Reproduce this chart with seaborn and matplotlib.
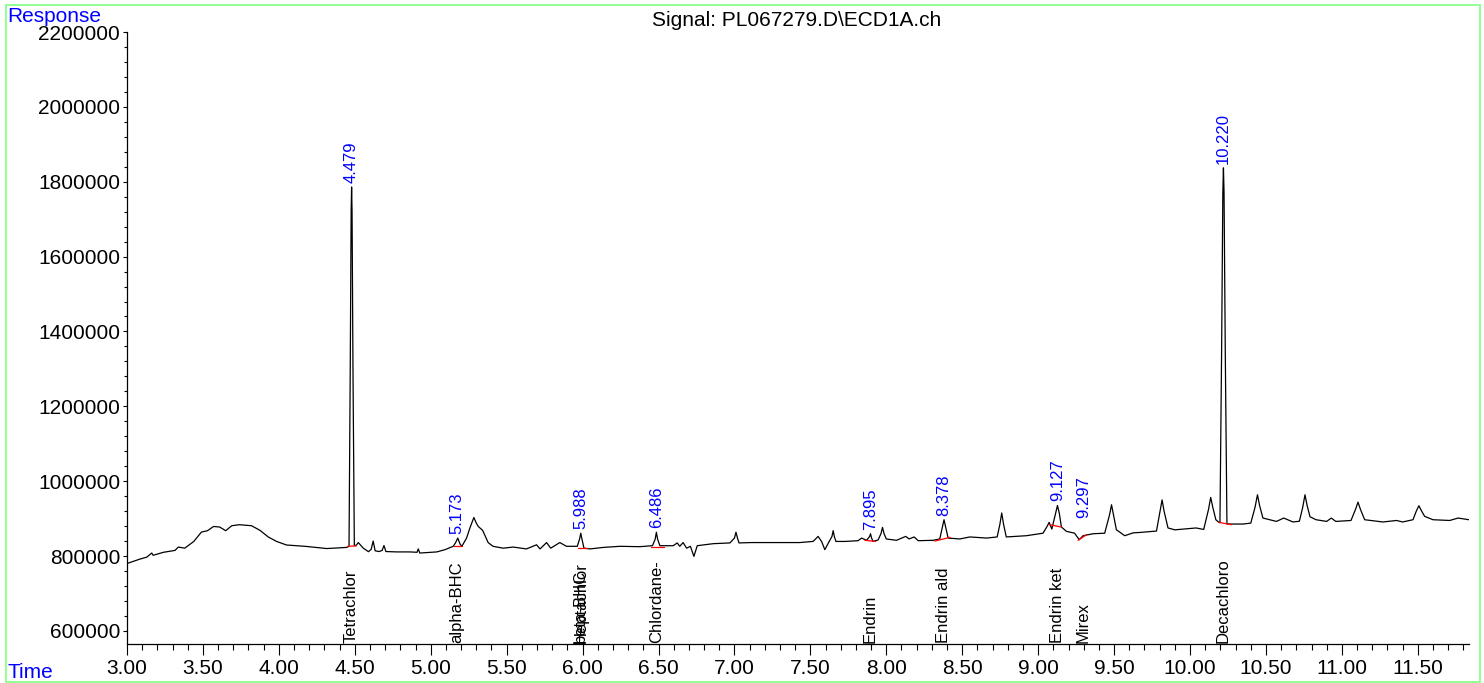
"""
GC-ECD chromatogram, signal PL067279.D\\ECD1A.ch
Writes out.png
"""

import matplotlib
matplotlib.use("Agg")
import matplotlib.pyplot as plt
from matplotlib.patches import Rectangle
from matplotlib.ticker import MultipleLocator, FuncFormatter
import numpy as np
import pandas as pd
import seaborn as sns

# ─── Data ─────────────────────────────────────────────────────────────────────

rt_min = [
    3.000, 3.086, 3.130, 3.163, 3.172, 3.240, 3.316, 3.338, 3.380, 3.440,
    3.490, 3.530, 3.570, 3.610, 3.650, 3.690, 3.740, 3.820, 3.876, 3.930,
    3.985, 4.050, 4.180, 4.315, 4.446, 4.462, 4.470, 4.476, 4.479, 4.482,
    4.488, 4.497, 4.510, 4.523, 4.556, 4.590, 4.608, 4.621, 4.634, 4.660,
    4.680, 4.692, 4.705, 4.776, 4.863, 4.910, 4.918, 4.928, 5.040, 5.094,
    5.148, 5.163, 5.178, 5.193, 5.205, 5.236, 5.258, 5.284, 5.300, 5.313,
    5.342, 5.378, 5.410, 5.477, 5.543, 5.630, 5.697, 5.720, 5.763, 5.790,
    5.850, 5.894, 5.965, 5.980, 5.988, 5.996, 6.009, 6.048, 6.136, 6.246,
    6.377, 6.460, 6.478, 6.486, 6.494, 6.509, 6.597, 6.623, 6.640, 6.662,
    6.685, 6.710, 6.733, 6.755, 6.860, 6.970, 7.000, 7.010, 7.020, 7.030,
    7.110, 7.277, 7.430, 7.518, 7.551, 7.575, 7.595, 7.624, 7.642, 7.650,
    7.658, 7.668, 7.730, 7.814, 7.837, 7.870, 7.890, 7.896, 7.903, 7.913,
    7.946, 7.965, 7.975, 7.985, 8.000, 8.067, 8.128, 8.150, 8.183, 8.210,
    8.308, 8.352, 8.368, 8.380, 8.392, 8.407, 8.484, 8.550, 8.660, 8.730,
    8.748, 8.760, 8.772, 8.790, 8.923, 9.032, 9.060, 9.072, 9.090, 9.115,
    9.127, 9.139, 9.153, 9.186, 9.240, 9.270, 9.296, 9.362, 9.438, 9.470,
    9.483, 9.496, 9.515, 9.570, 9.626, 9.669, 9.779, 9.803, 9.816, 9.829,
    9.855, 9.900, 10.040, 10.090, 10.122, 10.136, 10.150, 10.170, 10.190, 10.197,
    10.208, 10.216, 10.220, 10.224, 10.232, 10.243, 10.260, 10.349, 10.400, 10.428,
    10.444, 10.458, 10.480, 10.569, 10.617, 10.678, 10.720, 10.742, 10.757, 10.771,
    10.790, 10.830, 10.900, 10.930, 10.960, 11.060, 11.090, 11.106, 11.122, 11.150,
    11.270, 11.360, 11.400, 11.468, 11.490, 11.507, 11.525, 11.545, 11.600, 11.710,
    11.765, 11.837,
]

response = [
    780000, 792000, 797000, 808000, 802000, 810000, 815000, 824000, 821000, 839000,
    864000, 867700, 879000, 877500, 867700, 881000, 883700, 881000, 868500, 851000,
    839000, 829500, 825700, 820000, 823000, 826000, 1300000, 1720000, 1786000, 1720000,
    1300000, 828000, 829000, 836000, 821000, 811600, 818000, 840000, 814000, 812000,
    815000, 828000, 812000, 811000, 811000, 810000, 819000, 808000, 811000, 817000,
    826000, 835000, 848000, 832000, 826000, 848000, 875000, 903000, 888000, 879000,
    868500, 836000, 826000, 821000, 824000, 819000, 830000, 819000, 836000, 821000,
    836000, 826000, 826000, 845000, 861000, 845000, 821000, 819000, 823000, 826000,
    825000, 827600, 845000, 863600, 845000, 827600, 827600, 835000, 826000, 836000,
    821000, 826000, 799000, 827600, 833000, 835000, 848000, 863600, 848000, 835000,
    836000, 836000, 836000, 839000, 852500, 838000, 817000, 839000, 852000, 867700,
    852000, 839000, 839000, 841000, 848000, 842000, 852000, 859600, 848000, 839000,
    843000, 860000, 876500, 860000, 845600, 842000, 852500, 845600, 851000, 841000,
    842000, 845600, 875000, 897000, 875000, 848000, 845600, 851000, 848000, 851000,
    885000, 915000, 885000, 851000, 854300, 861000, 880000, 890000, 872000, 915000,
    935000, 915000, 877500, 866000, 861000, 843600, 854300, 859600, 861000, 910000,
    937000, 910000, 870300, 854300, 862000, 863000, 866700, 920000, 950000, 920000,
    875000, 870000, 875000, 871000, 925000, 956600, 930000, 897000, 890000, 889000,
    1350000, 1770000, 1837000, 1770000, 1350000, 886000, 885500, 885500, 888000, 930000,
    963700, 935000, 901500, 892500, 901500, 891000, 893000, 930000, 963700, 935000,
    905000, 897000, 892500, 901500, 892500, 895000, 925000, 944000, 925000, 897000,
    891000, 895000, 891000, 897000, 920000, 934400, 920000, 906000, 897000, 895000,
    901500, 897000,
]

# integrated peaks: retention time and height where the label sits
peak_rt = [4.479, 5.173, 5.988, 6.486, 7.895, 8.378, 9.127, 9.297, 10.220]
peak_label_resp = [1786000, 848000, 861000, 863600, 859600, 897000, 935000, 890000, 1837000]

# integration baselines (start rt, start resp, end rt, end resp)
base_t0 = [4.455, 5.155, 5.971, 6.448, 7.859, 8.320, 9.076, 9.263, 10.190]
base_r0 = [826000, 826000, 821000, 824000, 842000, 840000, 883600, 842000, 890000]
base_t1 = [4.510, 5.205, 6.026, 6.535, 7.930, 8.420, 9.153, 9.318, 10.272]
base_r1 = [827000, 826000, 821000, 824000, 839000, 850000, 877500, 857000, 883700]

# compound names (truncated to 10 chars like the data system does)
compound_names = ["Tetrachlor", "alpha-BHC", "beta-BHC", "Heptachlor", "Chlordane-",
                  "Endrin", "Endrin ald", "Endrin ket", "Mirex", "Decachloro"]
compound_rt = [4.479, 5.173, 5.985, 5.992, 6.486, 7.895, 8.378, 9.127, 9.297, 10.220]

SIGNAL = "Signal: PL067279.D\\ECD1A.ch"
X_MIN, X_MAX = 3.0, 11.837
Y_MIN, Y_MAX = 565000, 2200000


# ─── Plot ─────────────────────────────────────────────────────────────────────

sns.set_style("white")
plt.rcParams["font.family"] = ["Liberation Sans", "DejaVu Sans"]
plt.rcParams["text.color"] = "black"
plt.rcParams["xtick.color"] = "black"
plt.rcParams["ytick.color"] = "black"

fig = plt.figure(figsize=(14.84, 6.83), dpi=100)
ax = fig.add_axes([127 / 1484, 1 - 644 / 683, (1469 - 127) / 1484, (644 - 32) / 683])

trace = pd.DataFrame({"rt": rt_min, "resp": response})
sns.lineplot(data=trace, x="rt", y="resp", color="black", lw=0.9,
             estimator=None, sort=False, ax=ax)

for t0, r0, t1, r1 in zip(base_t0, base_r0, base_t1, base_r1):
    ax.plot([t0, t1], [r0, r1], color="red", lw=0.9)

for rt, r in zip(peak_rt, peak_label_resp):
    ax.annotate(f"{rt:.3f}", (rt, r), xytext=(0, 3), textcoords="offset points",
                rotation=90, ha="center", va="bottom", color="blue", fontsize=12)

for name, rt in zip(compound_names, compound_rt):
    ax.annotate(name, (rt, Y_MIN), xytext=(0, 1), textcoords="offset points",
                rotation=90, ha="center", va="bottom", color="black", fontsize=12)

ax.set_xlim(X_MIN, X_MAX)
ax.set_ylim(Y_MIN, Y_MAX)
ax.set_xlabel("")
ax.set_ylabel("")

ax.xaxis.set_major_locator(MultipleLocator(0.5))
ax.xaxis.set_minor_locator(MultipleLocator(0.1))
ax.xaxis.set_major_formatter(FuncFormatter(lambda v, _: f"{v:.2f}"))
ax.yaxis.set_major_locator(MultipleLocator(200000))
ax.yaxis.set_minor_locator(MultipleLocator(40000))
ax.yaxis.set_major_formatter(FuncFormatter(lambda v, _: f"{int(round(v))}"))

ax.tick_params(axis="x", which="major", direction="out", length=8, width=0.8,
               labelsize=15, pad=3, bottom=True)
ax.tick_params(axis="x", which="minor", direction="out", length=4.5, width=0.8, bottom=True)
ax.tick_params(axis="y", which="major", direction="out", length=3, width=0.8,
               labelsize=15, pad=2, left=True)
ax.tick_params(axis="y", which="minor", direction="out", length=2, width=0.8, left=True)

for side in ["top", "right"]:
    ax.spines[side].set_visible(False)
for side in ["left", "bottom"]:
    ax.spines[side].set_color("black")
    ax.spines[side].set_linewidth(0.9)

fig.text(797 / 1484, 1 - 20 / 683, SIGNAL, ha="center", va="center", fontsize=15)
fig.text(7 / 1484, 1 - 17 / 683, "Response", ha="left", va="center", fontsize=15, color="blue")
fig.text(7 / 1484, 1 - 672 / 683, "Time", ha="left", va="center", fontsize=15, color="blue")

fig.patches.append(Rectangle((6 / 1484, 1 / 683), (1480 - 6) / 1484, (678 - 1) / 683,
                             transform=fig.transFigure, fill=False,
                             edgecolor="#80ff80", lw=1.2))

fig.savefig("out.png", dpi=100)
plt.close(fig)
